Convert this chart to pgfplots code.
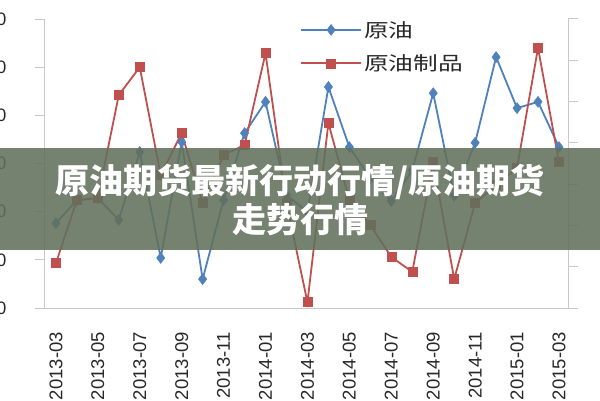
\documentclass[border=0pt]{standalone}
\usepackage{fontspec}
\usepackage{pgfplots}
\pgfplotsset{compat=1.18}
\setmainfont{Liberation Sans}
\newfontfamily\cjk{Noto Sans CJK SC}
\newfontfamily\cjkwide{Noto Sans CJK SC}[FakeStretch=1.3]
\definecolor{oilblue}{RGB}{79,129,189}
\definecolor{oilred}{RGB}{192,80,77}
\definecolor{axgray}{RGB}{200,200,200}
\definecolor{lbl}{RGB}{40,40,40}
\definecolor{banner}{RGB}{98,113,92}
\begin{document}
\begin{tikzpicture}
\useasboundingbox (0,0) rectangle (600pt,400pt);
\clip (0,0) rectangle (600pt,400pt);
\fill[white] (0,0) rectangle (600pt,400pt);
\begin{axis}[
  at={(45pt,92pt)}, anchor=south west,
  scale only axis, width=523pt, height=289pt,
  xmin=-0.52, xmax=24.43, ymin=0, ymax=60,
  axis x line*=bottom, axis y line*=left,
  axis line style={draw=axgray, line width=1pt},
  xtick={0,2,...,24},
  xticklabels={2013-03,2013-05,2013-07,2013-09,2013-11,2014-01,2014-03,2014-05,2014-07,2014-09,2014-11,2015-01,2015-03},
  x tick style={draw=none},
  ytick={0,10,...,60},
  y tick style={draw=axgray, line width=1pt},
  major tick length=10pt, tick align=outside,
  /pgf/number format/assume math mode=true,
  xticklabel style={rotate=90, anchor=east, inner xsep=14pt, font=\fontsize{18.5}{20}\selectfont, text=lbl},
  yticklabel style={font=\fontsize{18}{20}\selectfont, text=lbl, xshift=-25pt},
  legend style={at={(0.4876,1.0)}, anchor=north west, draw=none, fill=none, inner sep=0pt,
    row sep=12pt, font=\cjkwide\fontsize{19}{23}\selectfont, text=lbl},
  legend cell align=left,
  legend image code/.code={\draw[mark repeat=2,mark phase=2,#1] plot coordinates {(0pt,0pt) (30pt,0pt) (60pt,0pt)};},
]
\addplot[color=oilblue, line width=1.8pt, mark=diamond*, mark size=5.5pt, mark options={fill=oilblue, draw=oilblue, line width=0.5pt}]
coordinates {
(0,17.6)(1,22.4)(2,22.8)(3,18.3)(4,32.4)(5,10.4)(6,34.5)(7,6.0)(8,22.4)(9,36.3)
(10,42.8)(11,23.5)(12,19.9)(13,45.9)(14,33.4)(15,27.0)(16,22.2)(17,28.6)(18,44.6)(19,23.3)
(20,34.3)(21,52.1)(22,41.5)(23,42.8)(24,33.4)};
\addlegendentry{原油}
\addplot[color=oilred, line width=1.8pt, mark=square*, mark size=4.5pt, mark options={fill=oilred, draw=oilred, line width=0.5pt}]
coordinates {
(0,9.3)(1,22.4)(2,22.8)(3,44.2)(4,50.0)(5,27.6)(6,36.3)(7,21.8)(8,31.8)(9,33.8)
(10,52.9)(11,21.8)(12,1.2)(13,38.4)(14,22.4)(15,17.2)(16,10.6)(17,7.5)(18,30.3)(19,6.0)
(20,21.8)(21,25.5)(22,29.1)(23,54.0)(24,30.3)};
\addlegendentry{原油制品}
\end{axis}
\begin{axis}[
  at={(45pt,92pt)}, anchor=south west,
  scale only axis, width=523pt, height=289pt,
  xmin=-0.52, xmax=24.43, ymin=0, ymax=7,
  axis x line=none, axis y line*=right,
  axis line style={draw=axgray, line width=1pt},
  ytick={0,1,...,7},
  y tick style={draw=axgray, line width=1pt},
  major tick length=10pt, tick align=outside,
  /pgf/number format/assume math mode=true,
  yticklabel style={font=\fontsize{18}{20}\selectfont, text=lbl, xshift=19pt},
]
\addplot[draw=none] coordinates {(0,0)};
\end{axis}
\fill[banner, fill opacity=0.88] (0,150pt) rectangle (600pt,252pt);
\node[text=white, font=\cjk\bfseries\fontsize{34}{38}\selectfont, inner sep=0pt] at (300pt,218pt) {原油期货最新行动行情/原油期货};
\node[text=white, font=\cjk\bfseries\fontsize{34}{38}\selectfont, inner sep=0pt] at (300pt,180pt) {走势行情};
\end{tikzpicture}
\end{document}
